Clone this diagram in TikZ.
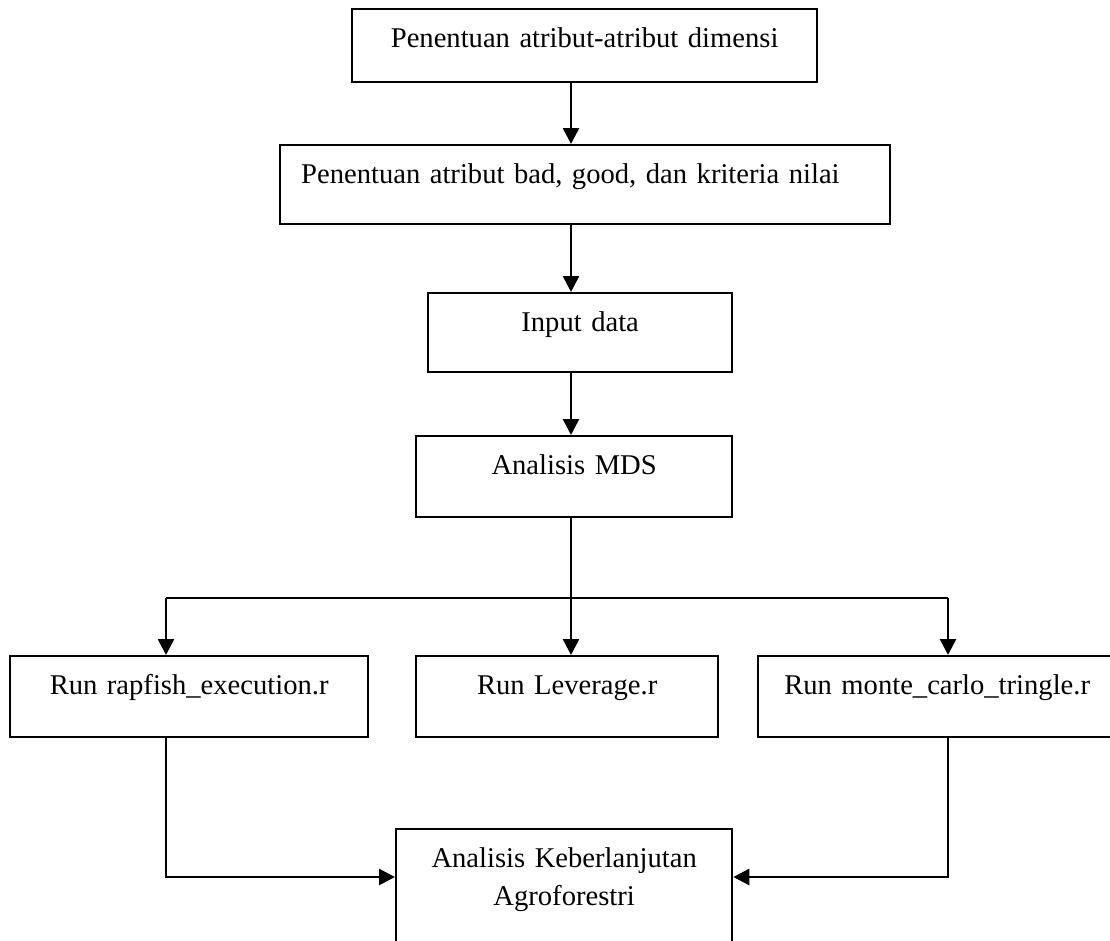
\documentclass[tikz,border=0pt]{standalone}
\usepackage{fontspec}
\setmainfont{Liberation Serif}
\usetikzlibrary{arrows.meta}
\begin{document}
\begin{tikzpicture}[x=1pt,y=1pt,
  box/.style={draw=black, line width=2.3pt, rectangle, inner xsep=0pt, inner ysep=0pt,
    anchor=north west, text height=38pt, align=center,
    font=\fontsize{28.6}{38}\selectfont},
  conn/.style={line width=2.6pt},
  arr/.style={line width=2.6pt, -{Triangle[width=16pt,length=16pt]}}]
\useasboundingbox (0,0) rectangle (1110,-940);
\clip (0,0) rectangle (1110,-940);
% boxes
\node[box, text width=465pt, text depth=35pt] (b1) at (351,-8) {Penentuan atribut-atribut dimensi};
\node[box, text width=568pt, inner xsep=21pt, align=left, text depth=41pt] (b2) at (279,-144) {Penentuan atribut bad, good, dan kriteria nilai};
\node[box, text width=304pt, text depth=41pt] (b3) at (427,-292) {Input data};
\node[box, text width=316pt, text depth=43pt] (b4) at (415,-435) {Analisis MDS};
\node[box, text width=358pt, text depth=43pt] (bA) at (9,-655) {Run rapfish\_execution.r};
\node[box, text width=302pt, text depth=43pt] (bB) at (415,-655) {Run Leverage.r};
\node[box, text width=358pt, text depth=43pt] (bC) at (757,-655) {Run monte\_carlo\_tringle.r};
\node[box, text width=336pt, text depth=160pt] (bF) at (395,-828) {Analisis Keberlanjutan\\Agroforestri};
% helper coordinates
\coordinate (ax) at (571,0);
\coordinate (xa) at (166,0);
\coordinate (xc) at (948,0);
\coordinate (split) at (571,-598);
\coordinate (yj) at (0,-877);
% connectors
\draw[arr] (b1.south -| ax) -- (b2.north -| ax);
\draw[arr] (b2.south -| ax) -- (b3.north -| ax);
\draw[arr] (b3.south -| ax) -- (b4.north -| ax);
\draw[conn] (b4.south -| ax) -- (split);
\draw[conn] (xa |- split) -- (xc |- split);
\draw[arr] (xa |- split) -- (bA.north -| xa);
\draw[arr] (split) -- (bB.north -| ax);
\draw[arr] (xc |- split) -- (bC.north -| xc);
\draw[arr] (bA.south -| xa) |- (bF.west |- yj);
\draw[arr] (bC.south -| xc) |- (bF.east |- yj);
\end{tikzpicture}
\end{document}
